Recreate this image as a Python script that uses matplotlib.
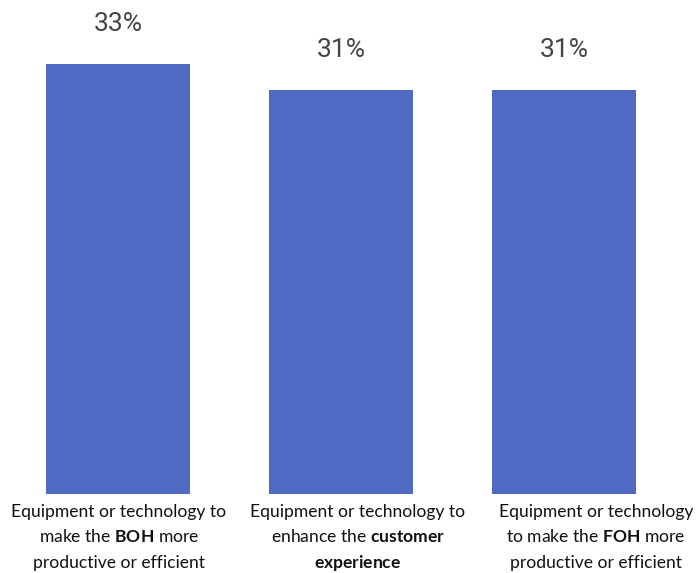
import matplotlib
matplotlib.use("Agg")
import matplotlib.pyplot as plt

categories = ["BOH", "customer", "FOH"]
values = [33, 31, 31]
value_labels = ["33%", "31%", "31%"]
label_lines = [
    ["Equipment or technology to", r"make the $\mathbf{BOH}$ more", "productive or efficient"],
    ["Equipment or technology to", r"enhance the $\mathbf{customer}$", r"$\mathbf{experience}$"],
    ["Equipment or technology", r"to make the $\mathbf{FOH}$ more", "productive or efficient"],
]
label_shift_px = [1, 17, 32]

plt.rcParams["mathtext.fontset"] = "custom"
plt.rcParams["mathtext.rm"] = "Lato"
plt.rcParams["mathtext.bf"] = "Lato:bold"

W, H = 697, 573
fig = plt.figure(figsize=(W / 100, H / 100), dpi=100)
base_px = 494
px_per_unit = 430 / 33
ax = fig.add_axes([0, (H - base_px) / H, 1, base_px / H])
x = list(range(len(values)))
spacing = 223
left_px = 118
ax.set_xlim(-left_px / spacing, (W - left_px) / spacing)
ax.set_ylim(0, base_px / px_per_unit)
bars = ax.bar(x, values, width=144 / spacing, color="#5069C3")
for xi, v, t in zip(x, values, value_labels):
    ax.annotate(t, (xi, v), xytext=(0, 23.5), textcoords="offset points",
                ha="center", va="baseline", fontsize=19, color="#444444",
                family="Roboto")
ax.axis("off")

baselines = [516.5, 542.5, 568]
for xi, lines, sh in zip(x, label_lines, label_shift_px):
    cx = left_px + xi * spacing + sh
    for ln, by in zip(lines, baselines):
        fig.text(cx / W, 1 - by / H, ln, ha="center", va="baseline",
                 fontsize=12.6, family="Lato", color="#111111")

fig.savefig("out.png", dpi=100)
